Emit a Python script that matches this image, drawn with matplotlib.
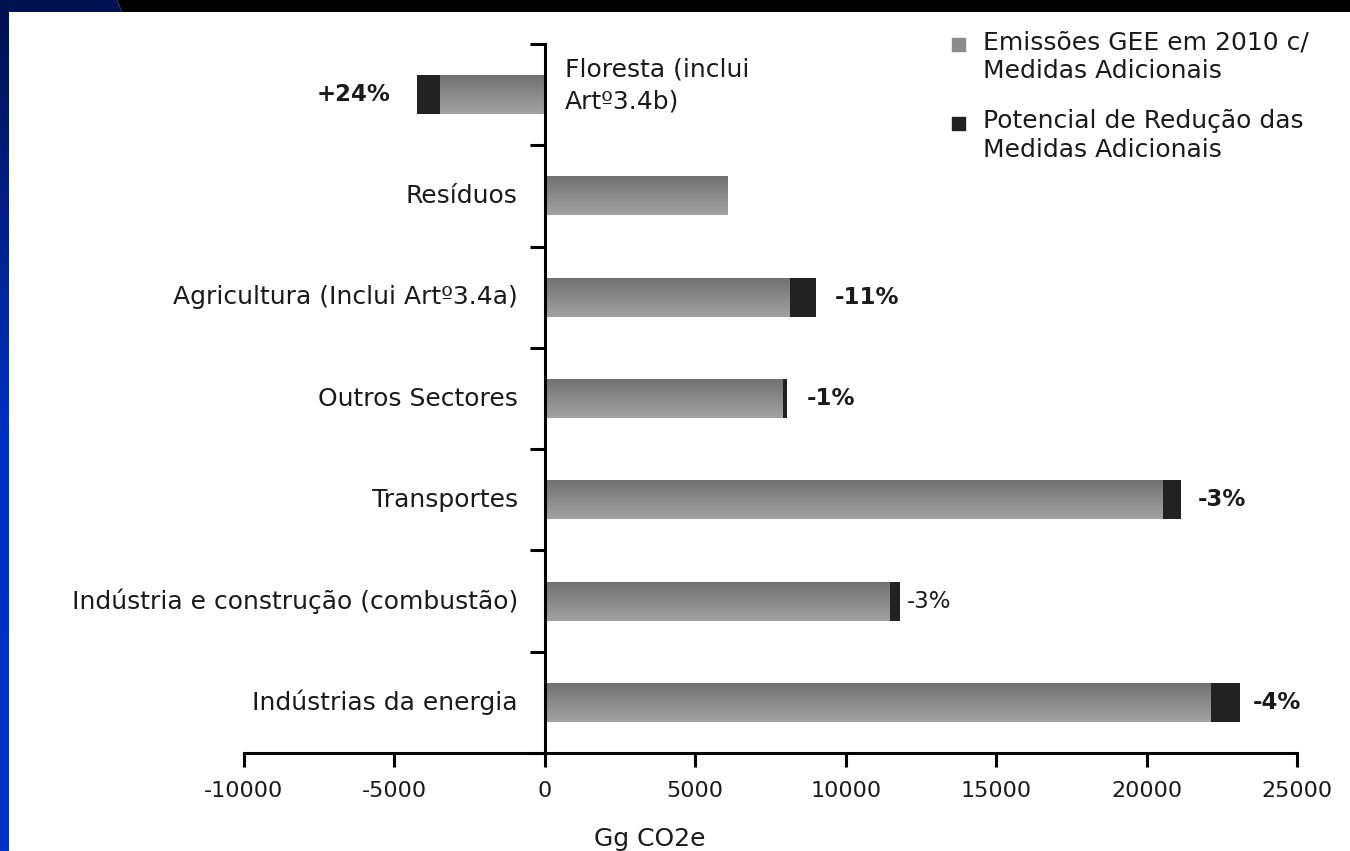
import numpy as np
import matplotlib
matplotlib.use("Agg")
import matplotlib.pyplot as plt
from matplotlib.patches import Polygon, Rectangle
from matplotlib.colors import LinearSegmentedColormap
import matplotlib.transforms as mtransforms

# -------------------------
# Data (top to bottom)
# -------------------------
categories = ["Floresta (inclui\nArtº3.4b)", "Resíduos", "Agricultura (Inclui Artº3.4a)",
              "Outros Sectores", "Transportes", "Indústria e construção (combustão)",
              "Indústrias da energia"]
emissoes = [-3490, 6080, 8140, 7910, 20530, 11460, 22130]     # Gg CO2e em 2010 c/ medidas adicionais
reducao = [-760, 0, 860, 130, 630, 330, 960]                   # potencial de redução
pct_labels = ["+24%", "", "-11%", "-1%", "-3%", "-3%", "-4%"]
pct_weight = ["bold", "bold", "bold", "bold", "bold", "normal", "bold"]
pct_offset = [26, 0, 19, 20, 16, 7, 13]   # gap in px between bar end and label
xticks = [-10000, -5000, 0, 5000, 10000, 15000, 20000, 25000]

series_names = ["Emissões GEE em 2010 c/\nMedidas Adicionais",
                "Potencial de Redução das\nMedidas Adicionais"]

grey = "#8c8c8c"
dark = "#222222"
txt = "#1a1a1a"
fs = 18

plt.rcParams["font.family"] = ["DejaVu Sans"]
plt.rcParams["axes.unicode_minus"] = False

fig = plt.figure(figsize=(13.5, 8.51), dpi=100, facecolor="white")
W, H = 1350, 851
ax = fig.add_axes([244 / W, 1 - 753 / H, (1297 - 244) / W, (753 - 44) / H])

n = len(categories)
y = np.arange(n)[::-1]          # first category on top
bh = 0.385

# grey bars + gradient overlay
bars = ax.barh(y, emissoes, height=bh, color=grey, zorder=2)
grad_cmap = LinearSegmentedColormap.from_list("g", ["#727272", "#a2a2a2"])
grad = np.linspace(0, 1, 40).reshape(-1, 1)
for p in bars:
    x0, x1 = sorted([p.get_x(), p.get_x() + p.get_width()])
    y0 = p.get_y()
    ax.imshow(grad, cmap=grad_cmap, extent=[x0, x1, y0, y0 + p.get_height()],
              aspect="auto", origin="upper", zorder=2.5, interpolation="bilinear")

# reduction potential (black piece at the end of the bar)
ax.barh(y, reducao, left=emissoes, height=bh, color=dark, zorder=3)

# percentage labels
for yi, e, r, lab, w, off in zip(y, emissoes, reducao, pct_labels, pct_weight, pct_offset):
    if not lab:
        continue
    end = e + r
    sign = 1 if end >= 0 else -1
    tr = mtransforms.offset_copy(ax.transData, fig=fig, x=sign * off, y=0, units="dots")
    ax.text(end, yi, lab, transform=tr, ha="left" if sign > 0 else "right",
            va="center", fontsize=16.5, fontweight=w, color=txt)

# category labels next to the zero line
for yi, e, lab in zip(y, emissoes, categories):
    if e >= 0:
        tr = mtransforms.offset_copy(ax.transData, fig=fig, x=-27, y=0, units="dots")
        ax.text(0, yi, lab, transform=tr, ha="right", va="center", fontsize=fs, color=txt)
    else:
        tr = mtransforms.offset_copy(ax.transData, fig=fig, x=20, y=9, units="dots")
        ax.text(0, yi, lab, transform=tr, ha="left", va="center", fontsize=fs,
                color=txt, linespacing=1.45)

# axes
ax.set_xlim(-10000, 25000)
ax.set_ylim(-0.5, n - 0.5)
ax.set_xticks(xticks)
ax.set_yticks([])
ax.set_yticks(np.arange(n + 1) - 0.5, minor=True)
ax.spines["left"].set_position(("data", 0))
for s in ["top", "right"]:
    ax.spines[s].set_visible(False)
for s in ["left", "bottom"]:
    ax.spines[s].set_linewidth(2.2)
ax.tick_params(axis="x", length=10, width=2.2, pad=10, labelsize=16, labelcolor=txt)
ax.tick_params(axis="y", which="minor", length=11, width=2.2)
ax.set_xlabel("Gg CO2e", fontsize=fs, color=txt)
ax.xaxis.set_label_coords(0.385, -0.105)
ax.set_facecolor("none")

# legend (handle sits on the first line of each two-line entry)
leg_colors = [grey, dark]
leg_y = [44, 123]
for name, col, ly in zip(series_names, leg_colors, leg_y):
    fig.patches.append(Rectangle((952 / W, 1 - (ly + 7) / H), 13 / W, 13 / H,
                                 transform=fig.transFigure, color=col, figure=fig))
    fig.text(983 / W, 1 - (ly - 14) / H, name, ha="left", va="top", fontsize=fs,
             color=txt, linespacing=1.28)

# slide frame: dark band on top and blue band on the left
bg = fig.add_axes([0, 0, 1, 1], zorder=-1)
bg.axis("off")
band_cmap = LinearSegmentedColormap.from_list("b", ["#001050", "#0030c0", "#0032c8"])
bg.imshow(np.linspace(0, 1, 100).reshape(-1, 1), cmap=band_cmap, extent=[0, 9, H, 0],
          aspect="auto")
bg.add_patch(Polygon([[117, 0], [W, 0], [W, 12], [122, 12]], color="black", lw=0))
bg.add_patch(Polygon([[0, 0], [117, 0], [122, 12], [0, 12]], color="#00124f", lw=0))
bg.set_xlim(0, W)
bg.set_ylim(H, 0)

fig.savefig("out.png", dpi=100, facecolor="white")
